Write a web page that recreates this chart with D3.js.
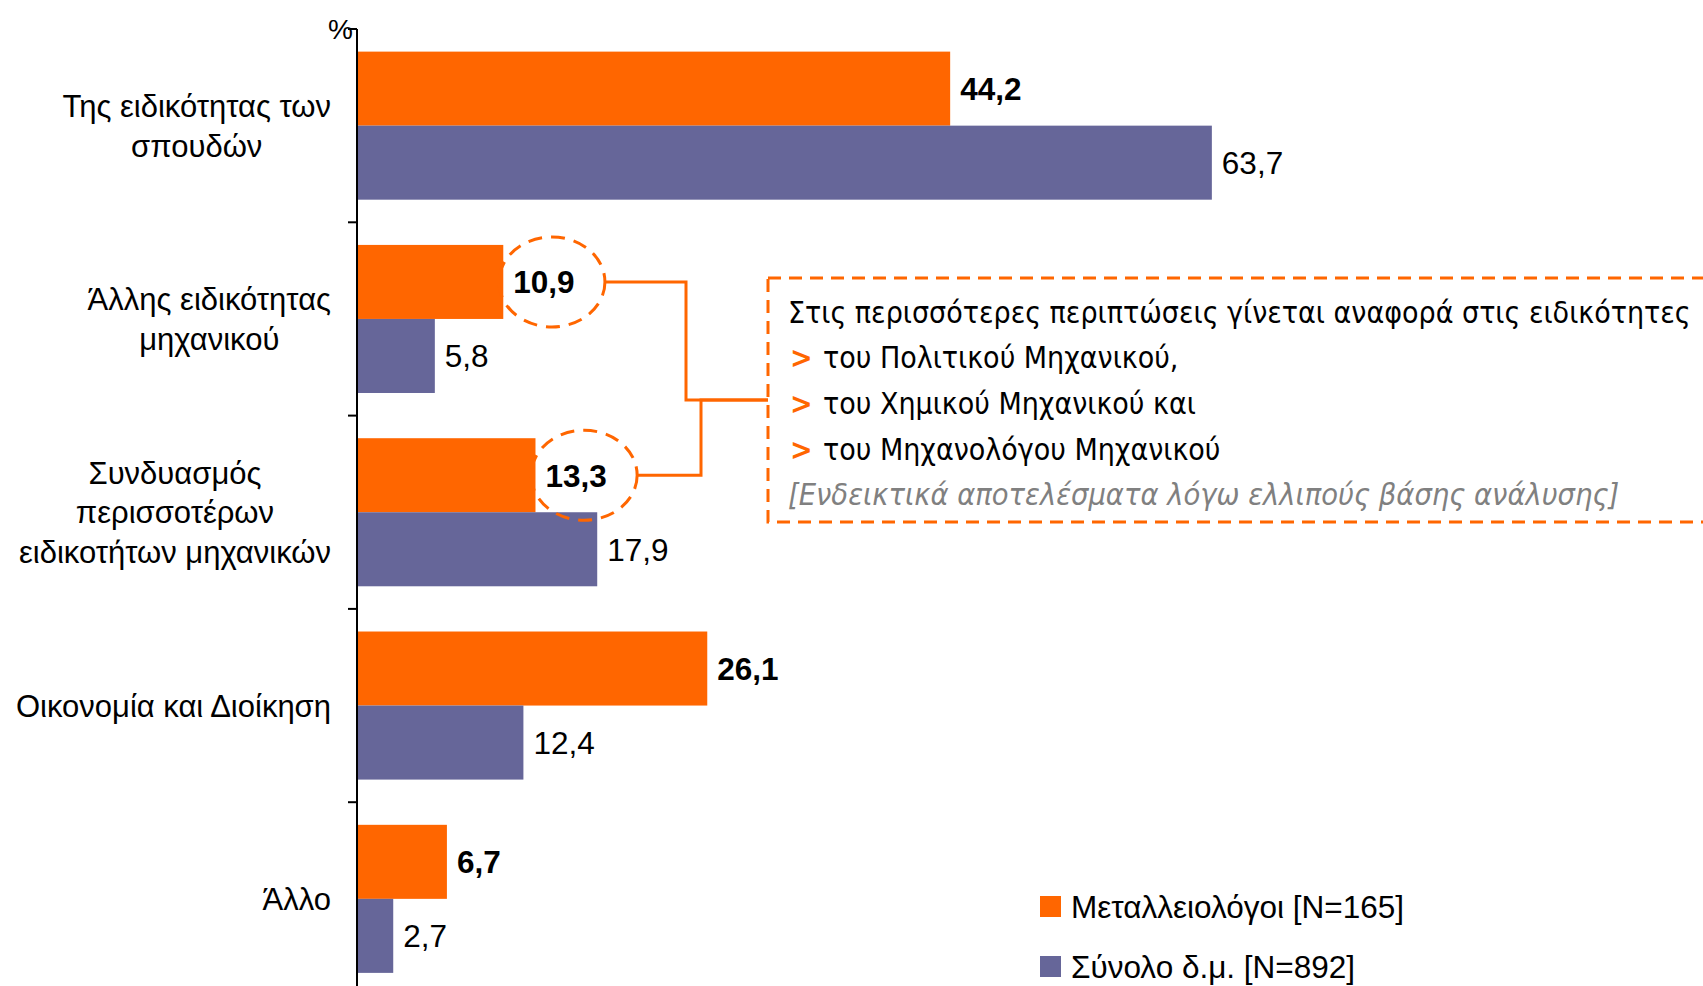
<!DOCTYPE html>
<html>
<head>
<meta charset="utf-8">
<script src="https://cdn.jsdelivr.net/npm/d3@7"></script>
<style>
  body { margin: 0; background: #fff; }
  svg { display: block; }
</style>
</head>
<body>
<div id="chart"></div>
<script>
// Data
const categories = [
    ["Της ειδικότητας των", "σπουδών"],
    ["Άλλης ειδικότητας", "μηχανικού"],
    ["Συνδυασμός", "περισσοτέρων", "ειδικοτήτων μηχανικών"],
    ["Οικονομία και Διοίκηση"],
    ["Άλλο"]
];
const metallValues = [44.2, 10.9, 13.3, 26.1, 6.7];
const totalValues = [63.7, 5.8, 17.9, 12.4, 2.7];
const seriesNames = ["Μεταλλειολόγοι [N=165]", "Σύνολο δ.μ. [N=892]"];
const highlighted = [1, 2]; // categories circled in the chart
const noteTitle = "Στις περισσότερες περιπτώσεις γίνεται αναφορά στις ειδικότητες";
const noteItems = ["του Πολιτικού Μηχανικού,", "του Χημικού Μηχανικού και", "του Μηχανολόγου Μηχανικού"];
const noteFooter = "[Ενδεικτικά αποτελέσματα λόγω ελλιπούς βάσης ανάλυσης]";

const W = 1703, H = 986;
const colors = ["#FF6600", "#666699"];
const font = "'Liberation Sans', Arial, sans-serif";
const noteFont = "'DejaVu Sans Condensed', 'DejaVu Sans', sans-serif";

const svg = d3.select("#chart").append("svg")
    .attr("width", W)
    .attr("height", H);

// Scales
const axisTop = 29, step = 193.3;
const y0 = d3.scaleBand()
    .domain(d3.range(categories.length))
    .range([axisTop, axisTop + step * categories.length])
    .paddingInner(0.234)
    .paddingOuter(0.117);
const y1 = d3.scaleBand().domain([0, 1]).range([0, y0.bandwidth()]);
const x = d3.scaleLinear().domain([0, 100]).range([357, 1699]);

const fmt = v => d3.format(".1f")(v).replace(".", ",");

// Bars
const series = [metallValues, totalValues];
series.forEach((vals, s) => {
    svg.append("g").selectAll("rect")
        .data(vals)
        .enter().append("rect")
        .attr("x", x(0))
        .attr("y", (d, i) => y0(i) + y1(s))
        .attr("width", d => x(d) - x(0))
        .attr("height", y1.bandwidth())
        .attr("fill", colors[s]);
});

// Value labels
const valueLabels = [];
series.forEach((vals, s) => {
    const g = svg.append("g");
    vals.forEach((d, i) => {
        const t = g.append("text")
            .attr("x", x(d) + 10)
            .attr("y", y0(i) + y1(s) + y1.bandwidth() / 2)
            .attr("dy", "0.36em")
            .attr("font-family", font)
            .attr("font-size", "31.5px")
            .attr("font-weight", s === 0 ? "bold" : "normal")
            .attr("fill", "#000")
            .text(fmt(d));
        if (s === 0) valueLabels[i] = t;
    });
});

// Axis line and ticks
svg.append("line")
    .attr("x1", x(0)).attr("x2", x(0))
    .attr("y1", axisTop).attr("y2", H + 20)
    .attr("stroke", "#000").attr("stroke-width", 2);
d3.range(categories.length + 1).forEach(i => {
    const ty = axisTop + i * step;
    svg.append("line")
        .attr("x1", x(0) - 9).attr("x2", x(0))
        .attr("y1", ty).attr("y2", ty)
        .attr("stroke", "#000").attr("stroke-width", 2);
});
svg.append("text")
    .attr("x", x(0) - 4)
    .attr("y", axisTop + 10)
    .attr("text-anchor", "end")
    .attr("font-family", font)
    .attr("font-size", "28px")
    .text("%");

// Category labels: lines centred on each other, block right-aligned
const labelRight = 331, lineH = 39.8;
categories.forEach((lines, i) => {
    const g = svg.append("g");
    const cy = y0(i) + y0.bandwidth() / 2;
    const texts = lines.map((l, k) => g.append("text")
        .attr("y", cy + (k - (lines.length - 1) / 2) * lineH)
        .attr("dy", "0.36em")
        .attr("font-family", font)
        .attr("font-size", "31px")
        .attr("text-anchor", "middle")
        .text(l));
    const maxW = d3.max(texts, t => t.node().getComputedTextLength());
    texts.forEach(t => t.attr("x", labelRight - maxW / 2));
});

// Note box
const box = { x: 768, y: 278, w: 960, h: 244 };
svg.append("rect")
    .attr("x", box.x).attr("y", box.y)
    .attr("width", box.w).attr("height", box.h)
    .attr("fill", "none")
    .attr("stroke", colors[0])
    .attr("stroke-width", 3)
    .attr("stroke-dasharray", "13,8");

const noteX = 788, noteY0 = 312, noteDy = 45.6;
svg.append("text")
    .attr("x", noteX).attr("y", noteY0).attr("dy", "0.36em")
    .attr("font-family", noteFont).attr("font-size", "30px")
    .text(noteTitle);
noteItems.forEach((t, k) => {
    const ty = noteY0 + (k + 1) * noteDy;
    svg.append("text")
        .attr("x", noteX + 2).attr("y", ty).attr("dy", "0.36em")
        .attr("font-family", noteFont).attr("font-size", "30px")
        .attr("font-weight", "bold").attr("fill", colors[0])
        .text(">");
    svg.append("text")
        .attr("x", noteX + 35).attr("y", ty).attr("dy", "0.36em")
        .attr("font-family", noteFont).attr("font-size", "30px")
        .text(t);
});
svg.append("text")
    .attr("x", noteX).attr("y", noteY0 + 4 * noteDy).attr("dy", "0.36em")
    .attr("font-family", noteFont).attr("font-size", "30.5px")
    .attr("font-style", "italic").attr("fill", "#808080")
    .text(noteFooter);

// Dashed ellipses round highlighted values, with connectors to the box
const boxMidY = box.y + box.h / 2;
const elbowX = [686, 701];
highlighted.forEach((i, k) => {
    const t = valueLabels[i];
    const bb = t.node().getBBox();
    const cx = bb.x + bb.width / 2 + 8;
    const cy = y0(i) + y1(0) + y1.bandwidth() / 2;
    const rx = 53, ry = 45;
    svg.append("ellipse")
        .attr("cx", cx).attr("cy", cy)
        .attr("rx", rx).attr("ry", ry)
        .attr("fill", "none")
        .attr("stroke", colors[0])
        .attr("stroke-width", 3)
        .attr("stroke-dasharray", "14,9");
    svg.append("path")
        .attr("d", `M${cx + rx},${cy}H${elbowX[k]}V${boxMidY}H${box.x}`)
        .attr("fill", "none")
        .attr("stroke", colors[0])
        .attr("stroke-width", 3);
});

// Legend
const legend = svg.append("g").attr("transform", "translate(1040, 896)");
seriesNames.forEach((name, s) => {
    const g = legend.append("g").attr("transform", `translate(0, ${s * 60})`);
    g.append("rect").attr("width", 21).attr("height", 21).attr("fill", colors[s]);
    g.append("text")
        .attr("x", 31).attr("y", 10.5).attr("dy", "0.36em")
        .attr("font-family", font).attr("font-size", "31.5px")
        .text(name);
});
</script>
</body>
</html>
